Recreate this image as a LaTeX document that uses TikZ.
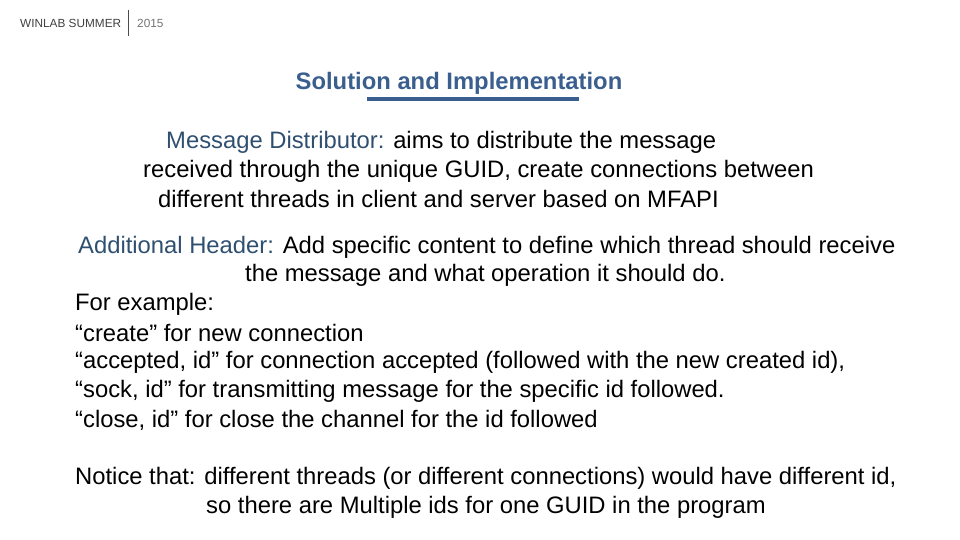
\documentclass[tikz,border=0pt]{standalone}
\usepackage{fontspec}
\setmainfont{Liberation Sans}
\definecolor{ttl}{HTML}{3A5F8F}
\definecolor{lbl}{HTML}{2F4F70}
\begin{document}
\begin{tikzpicture}[x=1pt,y=-1pt,
  body/.style={anchor=west,inner sep=0pt,font=\fontsize{23.8}{28}\selectfont},
  hdr/.style={anchor=west,inner sep=0pt,font=\fontsize{11.8}{13}\selectfont}]
\useasboundingbox (0,0) rectangle (960,540);
\node[hdr,text=black!75] (h1) at (20,23) {WINLAB SUMMER};
\draw[black!70,line width=0.8pt] (128,10) -- (128,36);
\node[hdr,text=black!55] (h2) at (137,23) {2015};
\node[inner sep=0pt,text=ttl,font=\bfseries\fontsize{23.8}{28}\selectfont] (t) at (459,83) {Solution and Implementation};
\draw[ttl,line width=4pt] (367,99) -- (579,99);
\node[body] (l1) at (166,142) {\textcolor{lbl}{Message Distributor:} aims to distribute the message};
\node[body] (l2) at (143,171) {received through the unique GUID, create connections between};
\node[body] (l3) at (158,199) {different threads in client and server based on MFAPI};
\node[body] (l4) at (78,247) {\textcolor{lbl}{Additional Header:} Add specific content to define which thread should receive};
\node[body] (l5) at (245,275) {the message and what operation it should do.};
\node[body] (l6) at (75,304) {For example:};
\node[body] (l7) at (75,333) {“create” for new connection};
\node[body] (l8) at (75,362) {“accepted, id” for connection accepted (followed with the new created id),};
\node[body] (l9) at (75,391) {“sock, id” for transmitting message for the specific id followed.};
\node[body] (l10) at (75,420) {“close, id” for close the channel for the id followed};
\node[body] (l11) at (75,478) {Notice that: different threads (or different connections) would have different id,};
\node[body] (l12) at (206,507) {so there are Multiple ids for one GUID in the program};
\end{tikzpicture}
\end{document}
